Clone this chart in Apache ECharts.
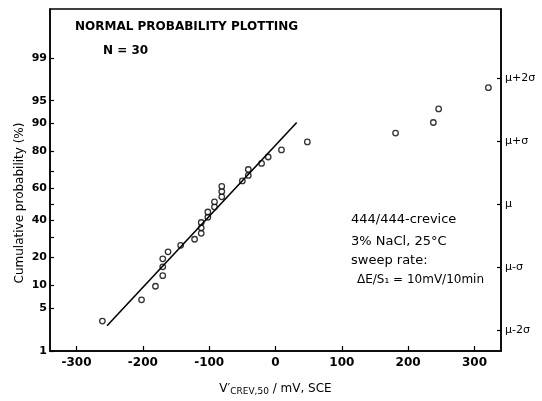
<!DOCTYPE html>
<html>
<head>
<meta charset="utf-8">
<script src="https://cdn.jsdelivr.net/npm/echarts@6/dist/echarts.min.js"></script>
<style>
    html, body { margin: 0; padding: 0; background: #fff; }
    #chart { width: 542px; height: 401px; }
</style>
</head>
<body>
<div id="chart"></div>
<script>
// V'crev,50 (mV, SCE) of the 30 specimens, sorted
var potential = [-261, -202, -181, -170, -170, -170, -162, -143, -122, -112,
    -112, -112, -102, -102, -92, -92, -81, -81, -81, -50,
    -41, -41, -21, -11, 9, 48, 181, 238, 246, 321];
// cumulative probability (%)
var cumProb = [3.2, 6.5, 9.7, 12.9, 16.1, 19.4, 22.6, 25.8, 29.0, 32.3,
    35.5, 38.7, 41.9, 45.2, 48.4, 51.6, 54.8, 58.1, 61.3, 64.5,
    67.7, 71.0, 74.2, 77.4, 80.6, 83.9, 87.1, 90.3, 93.5, 96.8];
// fitted straight line (end points)
var fitPotential = [-254, 32];
var fitProb = [2.7, 90.3];

var probTicks = [1, 5, 10, 20, 40, 60, 80, 90, 95, 99];
var probMinorTicks = [30, 50, 70];
var xTicks = [-300, -200, -100, 0, 100, 200, 300];
var sigmaTicks = [-2, -1, 0, 1, 2];
var sigmaLabels = ['\u03bc-2\u03c3', '\u03bc-\u03c3', '\u03bc', '\u03bc+\u03c3', '\u03bc+2\u03c3'];

// inverse of the standard normal cdf (Acklam), used as the probability scale
function probit(p) {
    var a = [-3.969683028665376e+01, 2.209460984245205e+02, -2.759285104469687e+02,
        1.383577518672690e+02, -3.066479806614716e+01, 2.506628277459239e+00];
    var b = [-5.447609879822406e+01, 1.615858368580409e+02, -1.556989798598866e+02,
        6.680131188771972e+01, -1.328068155288572e+01];
    var c = [-7.784894002430293e-03, -3.223964580411365e-01, -2.400758277161838e+00,
        -2.549732539343734e+00, 4.374664141464968e+00, 2.938163982698783e+00];
    var d = [7.784695709041462e-03, 3.224671290700398e-01, 2.445134137142996e+00,
        3.754408661907416e+00];
    var q, r;
    if (p < 0.02425) {
        q = Math.sqrt(-2 * Math.log(p));
        return (((((c[0] * q + c[1]) * q + c[2]) * q + c[3]) * q + c[4]) * q + c[5]) /
            ((((d[0] * q + d[1]) * q + d[2]) * q + d[3]) * q + 1);
    }
    if (p > 1 - 0.02425) {
        q = Math.sqrt(-2 * Math.log(1 - p));
        return -(((((c[0] * q + c[1]) * q + c[2]) * q + c[3]) * q + c[4]) * q + c[5]) /
            ((((d[0] * q + d[1]) * q + d[2]) * q + d[3]) * q + 1);
    }
    q = p - 0.5;
    r = q * q;
    return (((((a[0] * r + a[1]) * r + a[2]) * r + a[3]) * r + a[4]) * r + a[5]) * q /
        (((((b[0] * r + b[1]) * r + b[2]) * r + b[3]) * r + b[4]) * r + 1);
}

function z(pct) { return probit(pct / 100); }

var zMin = z(1);
var zMax = 3.1;
var zTicks = probTicks.map(z);
var zTickMarks = probTicks.concat(probMinorTicks).map(z);

function probLabel(v) {
    for (var i = 0; i < zTicks.length; i++) {
        if (Math.abs(zTicks[i] - v) < 1e-6) return String(probTicks[i]);
    }
    return '';
}
function sigmaLabel(v) {
    var i = sigmaTicks.indexOf(Math.round(v));
    return i >= 0 ? sigmaLabels[i] : '';
}

var points = potential.map(function (x, i) { return [x, z(cumProb[i])]; });
var fitLine = fitPotential.map(function (x, i) { return [x, z(fitProb[i])]; });

var font = 'DejaVu Sans';
var chart = echarts.init(document.getElementById('chart'));

var option = {
    backgroundColor: '#fff',
    animation: false,
    grid: {
        left: 50, right: 41, top: 9, bottom: 46,
        show: true, borderColor: '#000', borderWidth: 1.5, backgroundColor: 'transparent'
    },
    xAxis: {
        type: 'value',
        min: -340,
        max: 340,
        axisLine: { onZero: false, lineStyle: { color: '#000', width: 1.5 } },
        axisTick: { inside: true, length: 5, customValues: xTicks, lineStyle: { color: '#000', width: 1.2 } },
        axisLabel: { customValues: xTicks, color: '#000', fontFamily: font, fontWeight: 'bold', fontSize: 12, margin: 6 },
        splitLine: { show: false },
        name: '{a|V\u2032}{s|CREV,50}{a| / mV, SCE}',
        nameLocation: 'middle',
        nameGap: 30,
        nameTextStyle: {
            rich: {
                a: { fontFamily: font, fontSize: 12, color: '#000' },
                s: { fontFamily: font, fontSize: 9, color: '#000', padding: [6, 0, 0, 0] }
            }
        }
    },
    yAxis: [{
        type: 'value',
        min: zMin,
        max: zMax,
        position: 'left',
        axisLine: { show: true, onZero: false, lineStyle: { color: '#000', width: 1.5 } },
        axisTick: { show: true, inside: true, length: 4, customValues: zTickMarks, lineStyle: { color: '#000', width: 1.2 } },
        axisLabel: { customValues: zTicks, formatter: probLabel, color: '#000', fontFamily: font, fontWeight: 'bold', fontSize: 11, margin: 3 },
        splitLine: { show: false }
    }, {
        type: 'value',
        min: zMin,
        max: zMax,
        position: 'right',
        axisLine: { show: true, onZero: false, lineStyle: { color: '#000', width: 1.5 } },
        axisTick: { show: true, inside: true, length: 4, customValues: sigmaTicks, lineStyle: { color: '#000', width: 1.2 } },
        axisLabel: { customValues: sigmaTicks, formatter: sigmaLabel, color: '#000', fontFamily: font, fontSize: 11, margin: 4 },
        splitLine: { show: false }
    }],
    graphic: [
        { type: 'text', left: 75, top: 21, style: { text: 'NORMAL PROBABILITY PLOTTING', font: 'bold 12px "DejaVu Sans"', fill: '#000' } },
        { type: 'text', left: 103, top: 45, style: { text: 'N = 30', font: 'bold 12px "DejaVu Sans"', fill: '#000' } },
        { type: 'text', left: 351, top: 213, style: { text: '444/444-crevice', font: '13px "DejaVu Sans"', fill: '#000' } },
        { type: 'text', left: 351, top: 235, style: { text: '3% NaCl, 25\u00b0C', font: '13px "DejaVu Sans"', fill: '#000' } },
        { type: 'text', left: 351, top: 254, style: { text: 'sweep rate:', font: '13px "DejaVu Sans"', fill: '#000' } },
        { type: 'text', left: 357, top: 274, style: { text: '\u0394E/S\u2081 = 10mV/10min', font: '12px "DejaVu Sans"', fill: '#000' } },
        {
            type: 'text', x: 20, y: 203, rotation: Math.PI / 2,
            style: { text: 'Cumulative probability (%)', font: '12px "DejaVu Sans"', fill: '#000', textAlign: 'center', textVerticalAlign: 'middle' }
        }
    ],
    series: [{
        name: 'fit',
        type: 'line',
        data: fitLine,
        symbol: 'none',
        lineStyle: { color: '#000', width: 1.6 },
        silent: true
    }, {
        name: 'specimens',
        type: 'scatter',
        data: points,
        symbol: 'circle',
        symbolSize: 5.5,
        itemStyle: { color: '#fff', borderColor: '#000', borderWidth: 1.3 }
    }]
};

chart.setOption(option);
</script>
</body>
</html>
